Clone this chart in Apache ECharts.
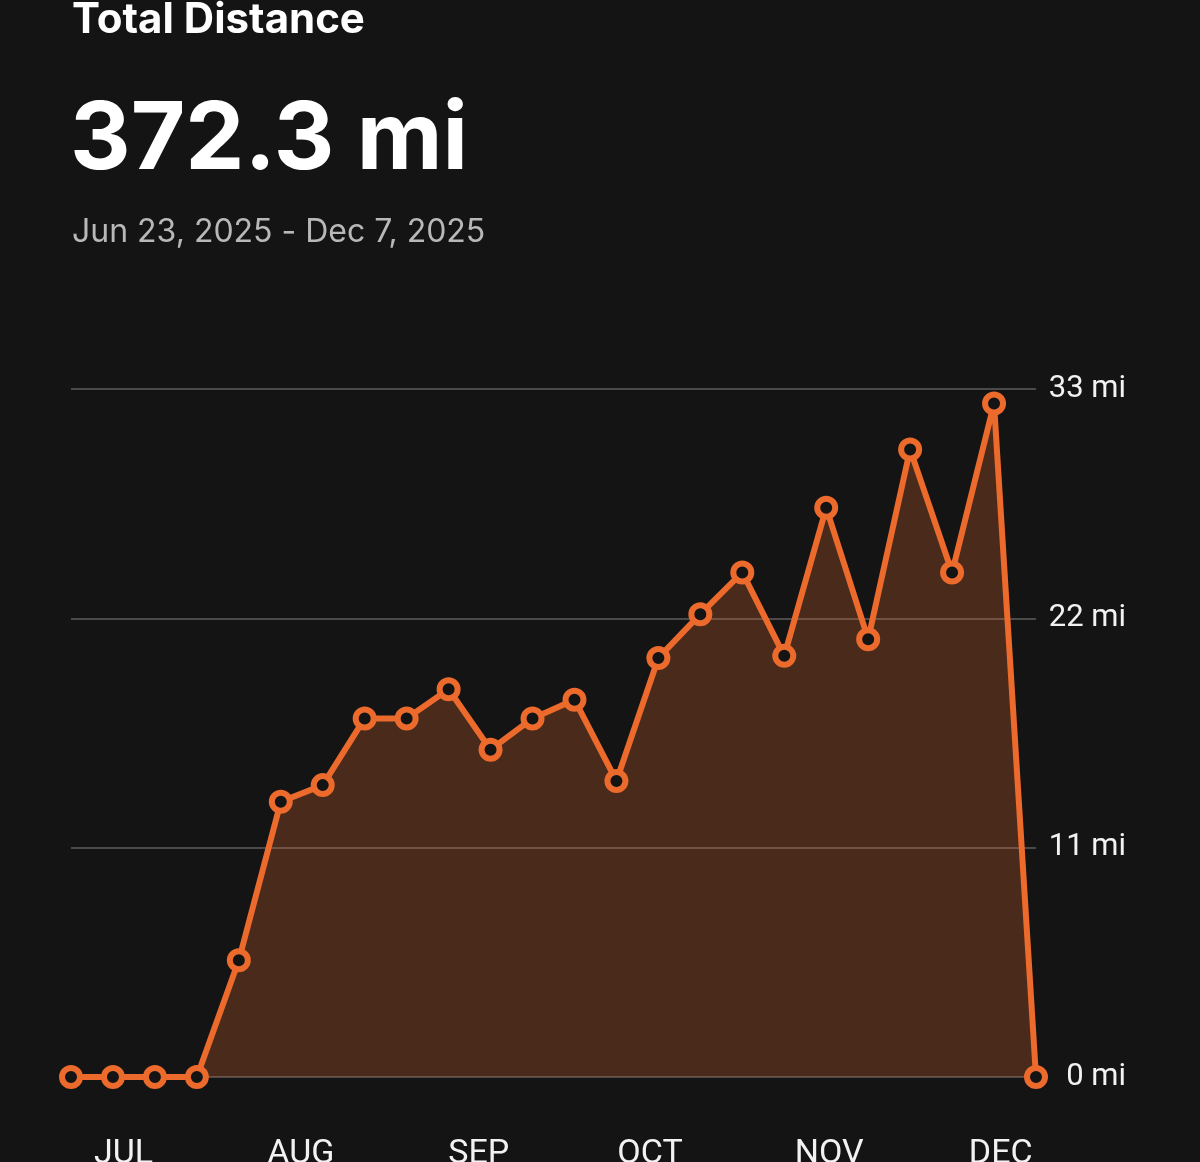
<!DOCTYPE html>
<html style="height: 100%">
<head>
    <meta charset="utf-8">
</head>
<body style="height: 100%; margin: 0; background: #141414">
    <div id="container" style="width: 1200px; height: 1162px"></div>
    <script type="text/javascript" src="https://cdn.jsdelivr.net/npm/echarts@6/dist/echarts.min.js"></script>
    <script type="text/javascript">
        // weekly totals, week of Jun 23 .. week of Dec 1
        var weeks = ['Jun 23', 'Jun 30', 'Jul 7', 'Jul 14', 'Jul 21', 'Jul 28', 'Aug 4', 'Aug 11',
            'Aug 18', 'Aug 25', 'Sep 1', 'Sep 8', 'Sep 15', 'Sep 22', 'Sep 29', 'Oct 6',
            'Oct 13', 'Oct 20', 'Oct 27', 'Nov 3', 'Nov 10', 'Nov 17', 'Nov 24', 'Dec 1'];
        var miles = [0, 0, 0, 0, 5.6, 13.2, 14.0, 17.2, 17.2, 18.6, 15.7, 17.2, 18.1, 14.2,
            20.1, 22.2, 24.2, 20.2, 27.3, 21.0, 30.1, 24.2, 32.3, 0];
        // month labels and where they sit along the week index
        var months = ['JUL', 'AUG', 'SEP', 'OCT', 'NOV', 'DEC'];
        var monthPos = [1.25, 5.48, 9.72, 13.8, 18.07, 22.16];
        var yTicks = [0, 11, 22, 33];

        var orange = '#eb6a2c';
        var myChart = echarts.init(document.getElementById('container'));

        var option = {
            backgroundColor: '#141414',
            animation: false,
            title: [
                {
                    text: 'Total Distance',
                    left: 72, top: -1, padding: 0,
                    textStyle: { color: '#ffffff', fontFamily: 'Inter', fontWeight: 'bold', fontSize: 42 }
                },
                {
                    text: '372.3 mi',
                    left: 70, top: 94, padding: 0,
                    textStyle: { color: '#ffffff', fontFamily: 'Inter', fontWeight: 'bold', fontSize: 94 }
                },
                {
                    text: 'Jun 23, 2025 - Dec 7, 2025',
                    left: 72, top: 216, padding: 0,
                    textStyle: { color: '#b8b8b8', fontFamily: 'Inter', fontWeight: 'normal', fontSize: 32 }
                }
            ],
            grid: {
                left: 71,
                right: 164,
                top: 389,
                bottom: 85,
                outerBoundsMode: 'none'
            },
            xAxis: {
                type: 'value',
                min: 0,
                max: weeks.length - 1,
                axisLine: { show: false },
                axisTick: { show: false },
                splitLine: { show: false },
                axisLabel: {
                    customValues: monthPos,
                    margin: 60,
                    color: '#f2f2f2',
                    fontFamily: 'Roboto',
                    fontSize: 34,
                    formatter: function (v) {
                        var i = monthPos.indexOf(v);
                        return i >= 0 ? months[i] : '';
                    }
                }
            },
            yAxis: {
                type: 'value',
                position: 'right',
                min: yTicks[0],
                max: yTicks[yTicks.length - 1],
                interval: 11,
                axisLine: { show: false },
                axisTick: { show: false },
                splitLine: { lineStyle: { color: '#4a4a4a', width: 2 } },
                axisLabel: {
                    align: 'right',
                    margin: 90,
                    padding: [6, 0, 0, 0],
                    color: '#f2f2f2',
                    fontFamily: 'Roboto',
                    fontSize: 31,
                    formatter: '{value} mi'
                }
            },
            series: [
                {
                    type: 'line',
                    clip: false,
                    showAllSymbol: true,
                    symbol: 'circle',
                    symbolSize: 18,
                    lineStyle: { color: orange, width: 6 },
                    itemStyle: { color: '#141414', borderColor: orange, borderWidth: 6 },
                    areaStyle: { color: orange, opacity: 0.25 },
                    data: miles.map(function (m, i) { return [i, m]; })
                }
            ]
        };
        myChart.setOption(option);
    </script>
</body>
</html>
